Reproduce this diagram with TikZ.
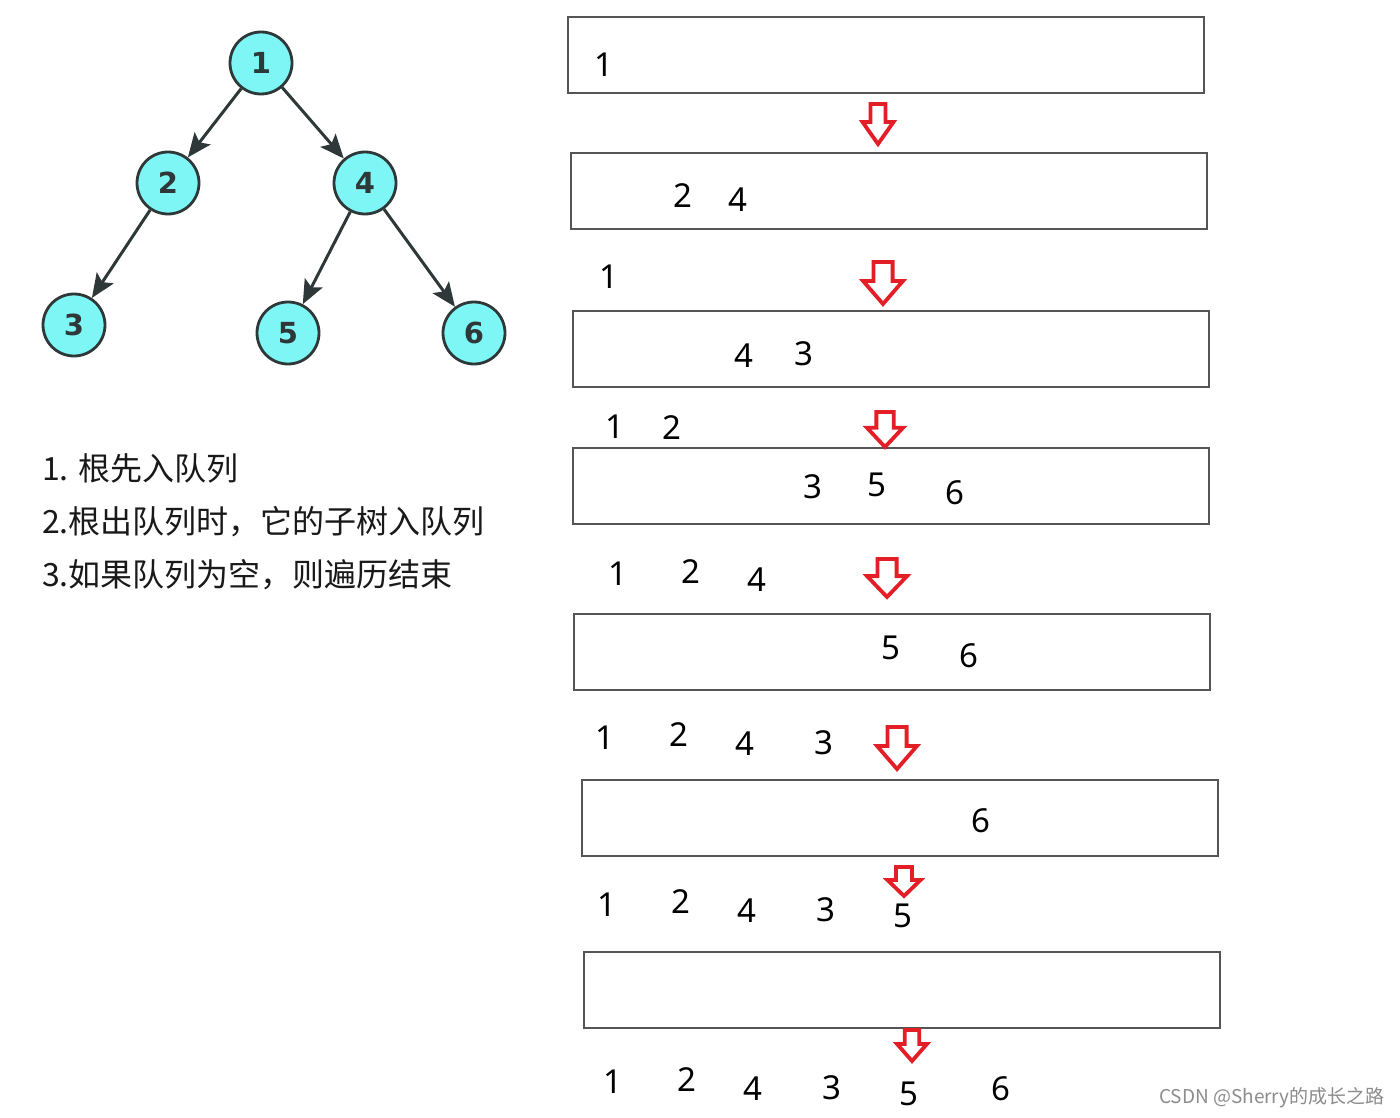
\documentclass[tikz,border=0pt]{standalone}
\usepackage{fontspec}
\setmainfont{Noto Sans}
\newfontfamily\cjk{Noto Sans CJK SC}
\newfontfamily\treefont{DejaVu Sans}
\usetikzlibrary{arrows.meta}
\definecolor{nodecyan}{HTML}{7FF6F6}
\definecolor{nodeedge}{HTML}{2F3838}
\definecolor{arrred}{HTML}{E41E26}
\definecolor{boxedge}{HTML}{555555}
\newcommand\redarr[4]{%
  \draw[redarrow] ({#1-0.24*#3},{#2}) -- ({#1+0.24*#3},{#2}) -- ({#1+0.24*#3},{#2+0.45*#4})
    -- ({#1+0.5*#3},{#2+0.45*#4}) -- ({#1},{#2+#4}) -- ({#1-0.5*#3},{#2+0.45*#4})
    -- ({#1-0.24*#3},{#2+0.45*#4}) -- cycle;}
\begin{document}
\begin{tikzpicture}[x=1pt,y=-1pt,
  treenode/.style={circle,draw=nodeedge,line width=2.8pt,fill=nodecyan,minimum size=62pt,inner sep=0pt,
    text=nodeedge,font=\treefont\bfseries\fontsize{29}{30}\selectfont},
  treeedge/.style={draw=nodeedge,line width=3pt,-{Stealth[length=24pt,width=20pt,inset=5pt]}},
  qbox/.style={draw=boxedge,line width=1.8pt,minimum width=636pt,minimum height=76pt,inner sep=0pt,anchor=north west},
  qnum/.style={font=\fontsize{33}{36}\selectfont,inner sep=0pt,text=black},
  redarrow/.style={draw=arrred,line width=3.8pt,line join=miter},
  note/.style={font=\cjk\fontsize{32}{36}\selectfont,anchor=base west,inner sep=0pt,text=black!90}]
\useasboundingbox[fill=white] (0,0) rectangle (1400,1118);
% tree
\node[treenode] (n1) at (261,63) {1};
\node[treenode] (n2) at (168,183) {2};
\node[treenode] (n4) at (365,183) {4};
\node[treenode] (n3) at (74,325) {3};
\node[treenode] (n5) at (288,333) {5};
\node[treenode] (n6) at (474,333) {6};
\draw[treeedge] (n1) -- (n2);
\draw[treeedge] (n1) -- (n4);
\draw[treeedge] (n2) -- (n3);
\draw[treeedge] (n4) -- (n5);
\draw[treeedge] (n4) -- (n6);
% notes
\node[note] (t1) at (42,480) {1. 根先入队列};
\node[note] (t2) at (42,533) {2.根出队列时，它的子树入队列};
\node[note] (t3) at (42,586) {3.如果队列为空，则遍历结束};
% queue boxes
\node[qbox] (b1) at (567,16) {};
\node[qbox] (b2) at (570,152) {};
\node[qbox] (b3) at (572,310) {};
\node[qbox] (b4) at (572,447) {};
\node[qbox] (b5) at (573,613) {};
\node[qbox] (b6) at (581,779) {};
\node[qbox] (b7) at (583,951) {};
% red arrows
\redarr{878}{104}{31}{40}
\redarr{883}{262}{40}{42}
\redarr{885}{412}{36}{35}
\redarr{887}{559}{40}{38}
\redarr{897}{727}{40}{42}
\redarr{904}{867}{33}{29}
\redarr{912}{1030}{30}{31}
% numbers
\node[qnum] (q1a) at (604,65) {1};
\node[qnum] (q2a) at (683,196) {2};
\node[qnum] (q2b) at (738,200) {4};
\node[qnum] (o2a) at (609,277) {1};
\node[qnum] (q3a) at (744,356) {4};
\node[qnum] (q3b) at (804,354) {3};
\node[qnum] (o3a) at (615,427) {1};
\node[qnum] (o3b) at (672,428) {2};
\node[qnum] (q4a) at (813,487) {3};
\node[qnum] (q4b) at (877,485) {5};
\node[qnum] (q4c) at (955,493) {6};
\node[qnum] (o4a) at (618,574) {1};
\node[qnum] (o4b) at (691,572) {2};
\node[qnum] (o4c) at (757,580) {4};
\node[qnum] (q5a) at (891,648) {5};
\node[qnum] (q5b) at (969,656) {6};
\node[qnum] (o5a) at (605,738) {1};
\node[qnum] (o5b) at (679,735) {2};
\node[qnum] (o5c) at (745,744) {4};
\node[qnum] (o5d) at (824,743) {3};
\node[qnum] (q6a) at (981,821) {6};
\node[qnum] (o6a) at (607,905) {1};
\node[qnum] (o6b) at (681,902) {2};
\node[qnum] (o6c) at (747,911) {4};
\node[qnum] (o6d) at (826,910) {3};
\node[qnum] (o6e) at (903,916) {5};
\node[qnum] (o7a) at (613,1082) {1};
\node[qnum] (o7b) at (687,1080) {2};
\node[qnum] (o7c) at (753,1089) {4};
\node[qnum] (o7d) at (832,1088) {3};
\node[qnum] (o7e) at (909,1094) {5};
\node[qnum] (o7f) at (1001,1089) {6};
% watermark
\node[font=\cjk\fontsize{19}{20}\selectfont,text=black!45,anchor=east,inner sep=0pt] (wm) at (1385,1098) {CSDN @Sherry的成长之路};
\end{tikzpicture}
\end{document}
